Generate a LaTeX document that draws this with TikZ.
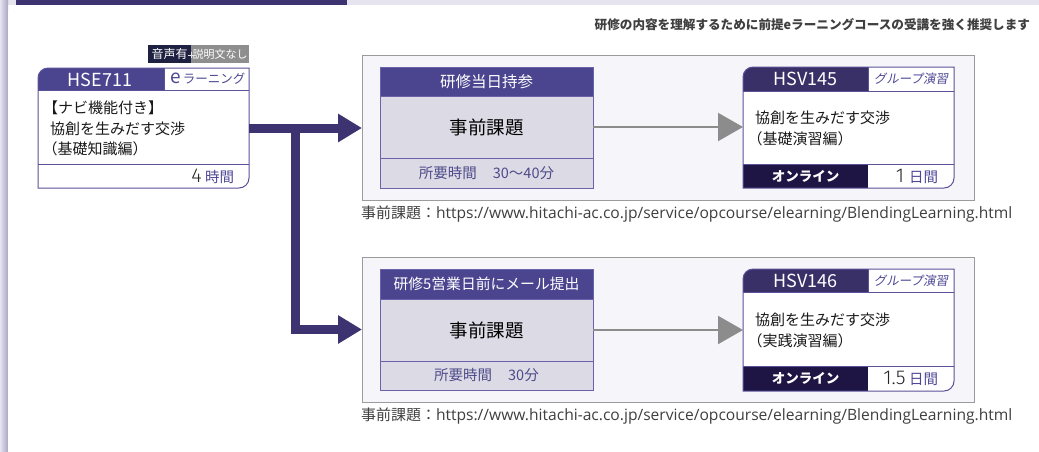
\documentclass[tikz,border=0pt]{standalone}
\usepackage{fontspec}
\setmainfont{Noto Sans CJK JP}
\newfontfamily\jpslant{Noto Sans CJK JP}[FakeSlant=0.18]
\newfontfamily\urlfont{Open Sans}
\newfontfamily\thinfont{Fira Sans Light}
\usetikzlibrary{arrows.meta}
\definecolor{navy}{HTML}{3C3370}
\definecolor{hdrA}{HTML}{4B4590}
\definecolor{hdrB}{HTML}{3A3068}
\definecolor{footdark}{HTML}{1E1545}
\definecolor{purp}{HTML}{4D4795}
\definecolor{cardline}{HTML}{5B5299}
\definecolor{preline}{HTML}{6B63AA}
\definecolor{prefill}{HTML}{DCDBE5}
\definecolor{panelbg}{HTML}{F5F5FA}
\definecolor{panelline}{HTML}{9B9B9B}
\definecolor{grayarr}{HTML}{8C8C8C}
\definecolor{txtgray}{HTML}{3F3F3F}
\definecolor{badgedark}{HTML}{1E2141}
\definecolor{badgegray}{HTML}{8E8E8E}
\definecolor{framelight}{HTML}{E6E4EF}
\definecolor{framedark}{HTML}{A9A5C6}
\definecolor{footpurp}{HTML}{4E4A8A}
\tikzset{
  cardpath/.style n args={4}{insert path={(#1,#4) -- (#1,#2+10) .. controls (#1,#2+4.48) and (#1+4.48,#2) .. (#1+10,#2) -- (#3,#2) -- (#3,#4-10) .. controls (#3,#4-4.48) and (#3-4.48,#4) .. (#3-10,#4) -- cycle}},
  hdrpath/.style n args={4}{insert path={(#1,#4) -- (#1,#2+10) .. controls (#1,#2+4.48) and (#1+4.48,#2) .. (#1+10,#2) -- (#3,#2) -- (#3,#4) -- cycle}},
  anchorbox/.style={draw=none, fill=none, inner sep=0pt},
  panel/.style={fill=panelbg, draw=panelline, line width=1pt, minimum width=612pt, minimum height=145pt},
  prehead/.style={fill=hdrA, draw=preline, line width=0.8pt, minimum width=213pt, text=white, font=\fontsize{15.5}{15.5}\selectfont},
  prebody/.style={fill=prefill, draw=preline, line width=0.8pt, minimum width=213pt, font=\fontsize{18.5}{18.5}\selectfont, text=black},
  prefoot/.style={fill=prefill, draw=preline, line width=0.8pt, minimum width=213pt, minimum height=30pt, text=footpurp, font=\fontsize{14.5}{14.5}\selectfont},
  cline/.style={draw=cardline, line width=1pt},
  codetext/.style={text=white, font=\fontsize{18}{18}\selectfont},
  titletext/.style={anchor=west, align=left, text=black!90, font=\fontsize{15}{20.5}\selectfont},
  modetext/.style={text=white, font=\bfseries\fontsize{13.5}{13.5}\selectfont},
  bigarrow/.style={draw=navy, line width=9pt, -{Triangle[length=24pt,width=27pt]}},
  grayarrow/.style={draw=grayarr, line width=2pt, -{Triangle[length=25pt,width=28pt]}},
  urltext/.style={anchor=west, text=txtgray, font=\fontsize{15}{15}\selectfont},
  durtext/.style={anchor=east, font=\thinfont\fontsize{20}{20}\selectfont, text=black!85},
}
\newcommand\unitjp[1]{{\color{purp}\fontsize{14.5}{14.5}\selectfont\rmfamily #1}}
\begin{document}
\begin{tikzpicture}[x=1pt,y=-1pt, every node/.style={inner sep=0pt, outer sep=0pt}]
\useasboundingbox (0,0) rectangle (1039,451);
% frame
\fill[framelight] (0,0) rectangle (1039,5);
\shade[left color=framelight, right color=framedark] (0,0) rectangle (8,451);
\fill[white, rounded corners=8pt] (8,5) rectangle (1070,480);
\fill[navy] (16,0) rectangle (347,5);

% note
\node[anchor=east, text=txtgray, font=\bfseries\fontsize{12.6}{12.6}\selectfont] (note) at (1030,25) {研修の内容を理解するために前提eラーニングコースの受講を強く推奨します};

% badge
\node[fill=badgedark, text=white, minimum width=43pt, minimum height=18pt, font=\fontsize{12}{12}\selectfont] (b1) at (169.5,54) {音声有};
\node[fill=badgegray, text=white, minimum width=58pt, minimum height=18pt, font=\fontsize{11}{11}\selectfont] (b2) at (220,54) {説明文なし};
\draw[white!80!gray, line width=0.8pt] (b1.east) ++(-3,1) -- ++(6,0) (b1.east) ++(0,-2) -- ++(0,6);

% HSE711 card
\node[anchorbox, minimum width=211pt, minimum height=120pt] (hse) at (143.5,128) {};
\fill[white, cardpath={38}{68}{249}{188}];
\fill[hdrA, hdrpath={38}{68}{164}{90}];
\draw[cline, cardpath={38}{68}{249}{188}];
\draw[cline] (38,90) -- (249,90) (164,68) -- (164,90) (38,164) -- (249,164);
\node[codetext] (hsecode) at (100,79.5) {HSE711};
\node[text=purp] (hsetype) at (208,79) {{\fontsize{19}{19}\selectfont e}\,{\fontsize{12.5}{12.5}\selectfont ラーニング}};
\node[titletext] (hsetitle) at (50,128.5) {\hspace{-7pt}【ナビ機能付き】\\協創を生みだす交渉\\\hspace{-7.5pt}（基礎知識編）};
\node[durtext] (hsedur) at (234,176) {4\,\unitjp{時間}};

% panel 1
\node[panel] (p1) at (668,127.5) {};
\node[prehead, minimum height=29pt] (p1h) at (486.5,81.5) {研修当日持参};
\node[prebody, minimum height=62pt] (p1b) at (486.5,127) {事前課題};
\node[prefoot] (p1f) at (486.5,173) {所要時間\hspace{1.1em}30～40分};

% HSV145 card
\node[anchorbox, minimum width=211pt, minimum height=121pt] (c1) at (848.5,127.5) {};
\fill[white, cardpath={743}{67}{954}{188}];
\fill[hdrB, hdrpath={743}{67}{868}{91}];
\fill[footdark] (743,164) rectangle (868,188);
\draw[cline, cardpath={743}{67}{954}{188}];
\draw[cline] (743,91) -- (954,91) (868,67) -- (868,91) (743,164) -- (954,164);
\node[codetext] (c1code) at (805.5,79) {HSV145};
\node[text=purp, font=\jpslant\fontsize{12.5}{12.5}\selectfont] (c1type) at (911,79) {グループ演習};
\node[titletext] (c1title) at (755,128.5) {協創を生みだす交渉\\\hspace{-7.5pt}（基礎演習編）};
\node[modetext] (c1mode) at (805.5,176) {オンライン};
\node[durtext] (c1dur) at (938,176) {1\hspace{5pt}\unitjp{日間}};

\node[urltext] (u1) at (361,214) {事前課題：{\urlfont\fontsize{15.6}{15.6}\selectfont https://www.hitachi-ac.co.jp/service/opcourse/elearning/BlendingLearning.html}};

% panel 2
\node[panel] (p2) at (668,329.5) {};
\node[prehead, minimum height=30pt, font=\fontsize{14.8}{14.8}\selectfont] (p2h) at (486.5,284) {研修5営業日前にメール提出};
\node[prebody, minimum height=62pt] (p2b) at (486.5,330) {事前課題};
\node[prefoot, minimum height=29pt] (p2f) at (486.5,375.5) {所要時間\hspace{1.1em}30分};

% HSV146 card
\node[anchorbox, minimum width=211pt, minimum height=122pt] (c2) at (848.5,330) {};
\fill[white, cardpath={743}{269}{954}{391}];
\fill[hdrB, hdrpath={743}{269}{868}{292}];
\fill[footdark] (743,366) rectangle (868,391);
\draw[cline, cardpath={743}{269}{954}{391}];
\draw[cline] (743,292) -- (954,292) (868,269) -- (868,292) (743,366) -- (954,366);
\node[codetext] (c2code) at (805.5,280.5) {HSV146};
\node[text=purp, font=\jpslant\fontsize{12.5}{12.5}\selectfont] (c2type) at (911,280.5) {グループ演習};
\node[titletext] (c2title) at (755,330.5) {協創を生みだす交渉\\\hspace{-7.5pt}（実践演習編）};
\node[modetext] (c2mode) at (805.5,378.5) {オンライン};
\node[durtext] (c2dur) at (938,378.5) {1.5\,\unitjp{日間}};

\node[urltext] (u2) at (361,416) {事前課題：{\urlfont\fontsize{15.6}{15.6}\selectfont https://www.hitachi-ac.co.jp/service/opcourse/elearning/BlendingLearning.html}};

% connectors
\coordinate (j) at (295,128);
\draw[bigarrow] (hse.east) -- (hse.east -| p1.west);
\draw[bigarrow] (j) |- (p2.west);
\draw[grayarrow] (p1b.east) -- (p1b.east -| c1.west);
\draw[grayarrow] (p2b.east) -- (p2b.east -| c2.west);
\end{tikzpicture}
\end{document}
